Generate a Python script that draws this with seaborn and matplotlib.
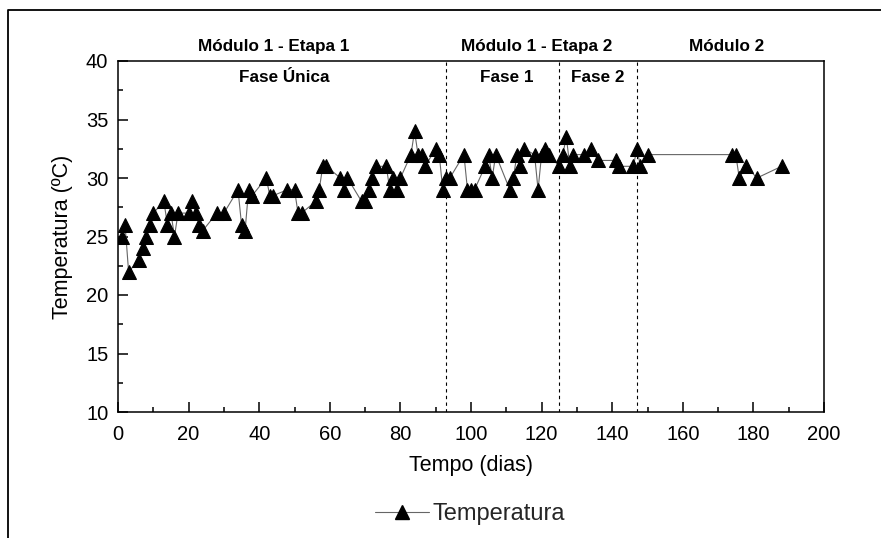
import matplotlib
matplotlib.use("Agg")
import matplotlib.pyplot as plt
import seaborn as sns
import pandas as pd
from matplotlib.lines import Line2D
from matplotlib.ticker import MultipleLocator

days = [1, 2, 3, 6, 7, 8, 9, 10, 13, 14, 15, 16, 17, 20, 21, 22, 23, 24, 28, 30,
        34, 35, 36, 37, 38, 42, 43, 44, 48, 50, 51, 52, 56, 57, 58, 59, 63, 64, 65,
        69, 70, 71, 72, 73, 76, 77, 78, 79, 80, 83, 84, 85, 86, 87, 90, 91, 92, 93,
        94, 98, 99, 100, 101, 104, 105, 106, 107, 111, 112, 113, 114, 115, 118, 119,
        120, 121, 122, 125, 126, 127, 128, 129, 132, 134, 136, 141, 142, 146, 147,
        148, 150, 174, 175, 176, 178, 181, 188]
temps = [25, 26, 22, 23, 24, 25, 26, 27, 28, 26, 27, 25, 27, 27, 28, 27, 26, 25.5, 27, 27,
         29, 26, 25.5, 29, 28.5, 30, 28.5, 28.5, 29, 29, 27, 27, 28, 29, 31, 31, 30, 29, 30,
         28, 28, 29, 30, 31, 31, 29, 30, 29, 30, 32, 34, 32, 32, 31, 32.5, 32, 29, 30,
         30, 32, 29, 29, 29, 31, 32, 30, 32, 29, 30, 32, 31, 32.5, 32, 29,
         32, 32.5, 32, 31, 32, 33.5, 31, 32, 32, 32.5, 31.5, 31.5, 31, 31, 32.5,
         31, 32, 32, 32, 30, 31, 30, 31]

phase_bounds = [93, 125, 147]
module_labels = ["Módulo 1 - Etapa 1", "Módulo 1 - Etapa 2", "Módulo 2"]
module_x = [44, 118.5, 172.5]
phase_labels = ["Fase Única", "Fase 1", "Fase 2"]
phase_x = [47, 110, 136]

series_name = "Temperatura"
x_label = "Tempo (dias)"
y_label = "Temperatura (ºC)"

df = pd.DataFrame({"dia": days, "temp": temps})

sns.set_theme(style="ticks")
plt.rcParams["font.family"] = ["Liberation Sans", "DejaVu Sans"]

fig = plt.figure(figsize=(8.81, 5.38), dpi=100)
ax = fig.add_axes([118/881, 1-412/538, (824-118)/881, (412-61)/538])

sns.lineplot(data=df, x="dia", y="temp", ax=ax, sort=False, color="#666666",
             linewidth=0.8, marker="^", markersize=9.8, markerfacecolor="black",
             markeredgecolor="black", label=series_name, legend=False)

for xb in phase_bounds:
    ax.axvline(xb, color="black", linestyle=(0, (3, 3)), linewidth=0.8)

ax.set_xlim(0, 200)
ax.set_ylim(10, 40)
ax.xaxis.set_major_locator(MultipleLocator(20))
ax.xaxis.set_minor_locator(MultipleLocator(10))
ax.yaxis.set_major_locator(MultipleLocator(5))
ax.yaxis.set_minor_locator(MultipleLocator(2.5))
ax.tick_params(which="both", direction="in", top=False, right=False, width=1.1,
               labelsize=14.5, color="black", labelcolor="black")
ax.tick_params(which="major", length=7)
ax.tick_params(which="minor", length=3.5)
ax.tick_params(axis="x", which="major", pad=9)
ax.tick_params(axis="y", which="major", pad=7)
for s in ax.spines.values():
    s.set_visible(True)
    s.set_linewidth(1.1)
    s.set_color("black")
ax.set_xlabel(x_label, fontsize=15.5, color="black", labelpad=8)
ax.set_ylabel(y_label, fontsize=15.5, color="black", labelpad=9)

for lbl, xm in zip(module_labels, module_x):
    ax.text(xm, 41.2, lbl, ha="center", va="center", fontsize=12.3, fontweight="bold",
            color="black", clip_on=False)
for lbl, xp in zip(phase_labels, phase_x):
    ax.text(xp, 38.6, lbl, ha="center", va="center", fontsize=12.3, fontweight="bold",
            color="black")

handle = Line2D([], [], color="#666666", linewidth=0.8, marker="^", markersize=9.8,
                markerfacecolor="black", markeredgecolor="black")
fig.legend([handle], [series_name], loc="center", bbox_to_anchor=(470/881, 1-514/538),
           frameon=False, fontsize=17, handlelength=2.3, handletextpad=0.15)

frame = Line2D([8/881, 8/881, 1.0], [0.0, 1-10/538, 1-10/538], transform=fig.transFigure,
               color="black", linewidth=1.3)
fig.add_artist(frame)

fig.savefig("out.png", dpi=100, facecolor="white")
